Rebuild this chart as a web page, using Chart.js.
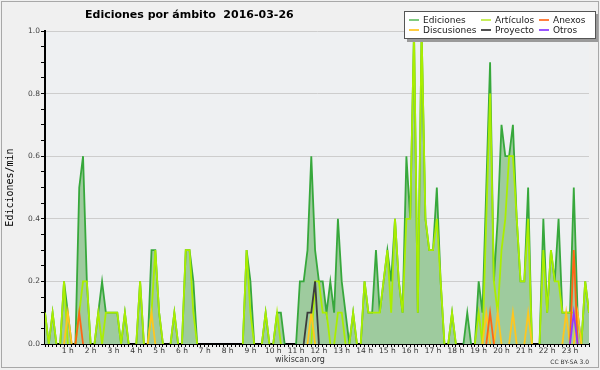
<!DOCTYPE html>
<html>
<head>
<meta charset="utf-8">
<script src="https://cdn.jsdelivr.net/npm/chart.js@4/dist/chart.umd.min.js"></script>
<style>
html,body{margin:0;padding:0;background:#f0f0f0;}
#wrap{position:relative;width:600px;height:370px;overflow:hidden;background:#f0f0f0;}
#c{position:absolute;left:0;top:0;}
#frame{position:absolute;left:1px;top:1px;width:596px;height:365px;border:1px solid #a8a8a8;pointer-events:none;}
.txt{position:absolute;white-space:nowrap;font-family:'DejaVu Sans',sans-serif;color:#000;}
#title{left:85px;top:8px;font-size:11px;font-weight:bold;line-height:14px;}
#site{left:0;width:600px;text-align:center;top:355px;font-size:8px;line-height:10px;color:#333;}
#lic{right:11px;top:358px;font-size:6px;line-height:8px;color:#333;}
#legend{position:absolute;left:404px;top:11px;width:190px;height:26px;background:#fff;border:1px solid #555;box-shadow:3px 3px 0 #9a9a9a;}
.li{position:absolute;font-family:'DejaVu Sans',sans-serif;font-size:9px;line-height:10px;color:#222;white-space:nowrap;}
.li span{display:inline-block;width:10px;height:2px;vertical-align:middle;margin-right:4px;position:relative;top:-1px;}
</style>
</head>
<body>
<div id="wrap">
<canvas id="c" width="600" height="370"></canvas>
<div id="title" class="txt">Ediciones por ámbito&nbsp;&nbsp;2016-03-26</div>
<div id="site" class="txt">wikiscan.org</div>
<div id="lic" class="txt">CC BY-SA 3.0</div>
<div id="legend"></div>
<div id="frame"></div>
</div>
<script>
// ---- data ----
const slotMinutes = Array.from({length: 144}, (_, i) => i * 10); // 10-minute slots of the day
const hourLabels = ['1 h','2 h','3 h','4 h','5 h','6 h','7 h','8 h','9 h','10 h','11 h','12 h',
  '13 h','14 h','15 h','16 h','17 h','18 h','19 h','20 h','21 h','22 h','23 h'];
const yTickLabels = ['0.0','0.2','0.4','0.6','0.8','1.0'];
const seriesNames = ['Ediciones','Artículos','Anexos','Discusiones','Proyecto','Otros'];

const ediciones = [
  0.1,0,0.1,0,0,0.2,0.1,0,0,0.5,0.6,0.2,
  0,0,0.1,0.2,0.1,0.1,0.1,0.1,0,0.1,0,0,
  0,0.2,0,0,0.3,0.3,0.1,0,0,0,0.1,0,
  0,0.3,0.3,0.2,0,0,0,0,0,0,0,0,
  0,0,0,0,0,0.3,0.2,0,0,0,0.1,0,
  0,0.1,0.1,0,0,0,0,0.2,0.2,0.3,0.6,0.3,
  0.2,0.2,0.1,0.2,0.1,0.4,0.2,0.1,0,0.1,0,0,
  0.2,0.1,0.1,0.3,0.1,0.2,0.3,0.2,0.4,0.2,0.1,0.6,
  0.4,1.0,0.1,1.0,0.4,0.3,0.3,0.5,0.2,0,0,0.1,
  0,0,0,0.1,0,0,0.2,0.1,0.5,0.9,0.2,0.4,
  0.7,0.6,0.6,0.7,0.4,0.2,0.2,0.5,0,0,0,0.4,
  0.1,0.3,0.2,0.4,0.1,0.1,0.1,0.5,0.1,0,0.2,0.1
];
const articulos = [
  0.1,0,0.1,0,0,0.2,0,0,0,0.1,0.2,0.2,
  0,0,0.1,0,0.1,0.1,0.1,0.1,0,0.1,0,0,
  0,0.2,0,0,0.1,0.3,0.1,0,0,0,0.1,0,
  0,0.3,0.3,0.1,0,0,0,0,0,0,0,0,
  0,0,0,0,0,0.3,0.1,0,0,0,0.1,0,
  0,0.1,0,0,0,0,0,0,0,0,0,0.2,
  0.2,0.1,0.1,0,0,0.1,0.1,0,0,0.1,0,0,
  0.2,0.1,0.1,0.1,0.1,0.2,0.3,0.1,0.4,0.2,0.1,0.4,
  0.4,1.0,0.1,1.0,0.4,0.3,0.3,0.4,0.2,0,0,0.1,
  0,0,0,0,0,0,0.1,0,0.4,0.8,0.2,0.1,
  0.3,0.4,0.6,0.6,0.4,0.2,0.2,0.4,0,0,0,0.3,
  0.1,0.3,0.2,0.2,0.1,0.1,0.1,0.1,0,0,0.2,0.1
];
const anexos = [
  0,0,0,0,0,0,0,0,0,0.1,0,0,
  0,0,0,0,0,0,0,0,0,0,0,0,
  0,0,0,0,0,0,0,0,0,0,0,0,
  0,0,0,0,0,0,0,0,0,0,0,0,
  0,0,0,0,0,0,0,0,0,0,0,0,
  0,0,0,0,0,0,0,0,0,0,0,0,
  0,0,0,0,0,0,0,0,0,0,0,0,
  0,0,0,0,0,0,0,0,0,0,0,0,
  0,0,0,0,0,0,0,0,0,0,0,0,
  0,0,0,0,0,0,0,0,0,0.1,0,0,
  0,0,0,0,0,0,0,0,0,0,0,0,
  0,0,0,0,0,0,0,0.3,0,0,0,0
];
const discusiones = [
  0,0,0,0,0,0,0.1,0,0,0,0,0,
  0,0,0,0,0,0,0,0,0,0,0,0,
  0,0,0,0,0.1,0,0,0,0,0,0,0,
  0,0,0,0,0,0,0,0,0,0,0,0,
  0,0,0,0,0,0,0,0,0,0,0,0,
  0,0,0,0,0,0,0,0,0,0,0.1,0,
  0,0,0,0,0,0,0,0,0,0,0,0,
  0,0,0,0,0,0,0,0,0,0,0,0,
  0,0,0,0,0,0,0,0,0,0,0,0,
  0,0,0,0,0,0,0,0,0.1,0,0,0.1,
  0,0,0,0.1,0,0,0,0.1,0,0,0,0,
  0,0,0,0,0,0.1,0,0,0.1,0,0,0
];
const proyecto = [
  0,0,0,0,0,0,0,0,0,0,0,0,
  0,0,0,0,0,0,0,0,0,0,0,0,
  0,0,0,0,0,0,0,0,0,0,0,0,
  0,0,0,0,0,0,0,0,0,0,0,0,
  0,0,0,0,0,0,0,0,0,0,0,0,
  0,0,0,0,0,0,0,0,0,0.1,0.1,0.2,
  0,0,0,0,0,0,0,0,0,0,0,0,
  0,0,0,0,0,0,0,0,0,0,0,0,
  0,0,0,0,0,0,0,0,0,0,0,0,
  0,0,0,0,0,0,0,0,0,0,0,0,
  0,0,0,0,0,0,0,0,0,0,0,0,
  0,0,0,0,0,0,0,0,0,0,0,0
];
const otros = [
  0,0,0,0,0,0,0,0,0,0,0,0,
  0,0,0,0,0,0,0,0,0,0,0,0,
  0,0,0,0,0,0,0,0,0,0,0,0,
  0,0,0,0,0,0,0,0,0,0,0,0,
  0,0,0,0,0,0,0,0,0,0,0,0,
  0,0,0,0,0,0,0,0,0,0,0,0,
  0,0,0,0,0,0,0,0,0,0,0,0,
  0,0,0,0,0,0,0,0,0,0,0,0,
  0,0,0,0,0,0,0,0,0,0,0,0,
  0,0,0,0,0,0,0,0,0,0,0,0,
  0,0,0,0,0,0,0,0,0,0,0,0,
  0,0,0,0,0,0,0,0.1,0,0,0,0
];

// ---- styles ----
const lineColors = ['#37a83c','#aaee00','#ff6414','#ffc61e','#3c3c3c','#9933ff'];
const legendColors = ['#7fca7f','#c6ee5a','#ff8040','#ffcc40','#505050','#9955ff'];
const fillColor = '#9ecb9e';
const drawOrder = [10,5,2,4,3,1];
const seriesData = [ediciones, articulos, anexos, discusiones, proyecto, otros];

const hideZero = ctx => (ctx.p0.parsed.y === 0 && ctx.p1.parsed.y === 0) ? 'rgba(0,0,0,0)' : undefined;

const datasets = seriesNames.map((name, k) => ({
  label: name,
  data: seriesData[k],
  borderColor: lineColors[k],
  backgroundColor: k === 0 ? fillColor : lineColors[k],
  fill: k === 0 ? 'origin' : false,
  borderWidth: 1.8,
  pointRadius: 0,
  tension: 0,
  order: drawOrder[k],
  segment: { borderColor: hideZero }
}));

const bgPlugin = {
  id: 'bg',
  beforeDraw(chart) {
    const {ctx, chartArea: a} = chart;
    ctx.save();
    ctx.fillStyle = '#f0f0f0';
    ctx.fillRect(0, 0, chart.width, chart.height);
    ctx.fillStyle = '#eef0f2';
    ctx.fillRect(a.left, a.top, a.right - a.left, a.bottom - a.top);
    ctx.restore();
  }
};

new Chart(document.getElementById('c'), {
  type: 'line',
  data: { labels: slotMinutes, datasets },
  plugins: [bgPlugin],
  options: {
    responsive: false,
    animation: false,
    devicePixelRatio: 1,
    layout: { padding: { left: 0, right: 11, top: 31, bottom: 0 } },
    plugins: { legend: { display: false }, tooltip: { enabled: false }, title: { display: false } },
    scales: {
      x: {
        type: 'linear',
        min: 0, max: 1430,
        afterFit: s => { s.height = 26; },
        border: { color: '#000', width: 2 },
        grid: { drawOnChartArea: false, drawTicks: true, tickLength: 3, tickColor: '#000' },
        ticks: {
          stepSize: 10, autoSkip: false, maxRotation: 0, padding: 0,
          color: '#333', font: { family: 'DejaVu Sans', size: 7.5 },
          callback: v => (v % 60 === 0 && v > 0) ? hourLabels[v / 60 - 1] : ''
        }
      },
      y: {
        min: 0, max: 1,
        afterFit: s => { s.width = 45; },
        border: { color: '#000', width: 2 },
        grid: {
          drawTicks: true, tickLength: 4, tickColor: '#000', lineWidth: 1,
          color: c => {
            const k = Math.round(c.tick.value * 100);
            return (k % 20 === 0 && k > 0) ? '#cdcdcd' : 'rgba(0,0,0,0)';
          }
        },
        title: { display: true, text: 'Ediciones/min', color: '#000',
          font: { family: 'DejaVu Sans Mono', size: 10 }, padding: { top: 4, bottom: 0 } },
        ticks: {
          stepSize: 0.05, autoSkip: false, padding: 1,
          color: '#444', font: { family: 'DejaVu Sans', size: 7.5 },
          callback: v => { const k = Math.round(v * 100); return k % 20 === 0 ? yTickLabels[k / 20] : ''; }
        }
      }
    }
  }
});

// HTML legend built from the series names / colours (3 columns x 2 rows)
const legendPos = [[4,3],[76,3],[134,3],[4,13],[76,13],[134,13]];
const legendSlots = [0,1,2,3,4,5];
const lg = document.getElementById('legend');
legendSlots.forEach((k, n) => {
  const d = document.createElement('div');
  d.className = 'li';
  d.style.left = legendPos[n][0] + 'px';
  d.style.top = legendPos[n][1] + 'px';
  const sw = document.createElement('span');
  sw.style.background = legendColors[k];
  d.appendChild(sw);
  d.appendChild(document.createTextNode(seriesNames[k]));
  lg.appendChild(d);
});
</script>
</body>
</html>
